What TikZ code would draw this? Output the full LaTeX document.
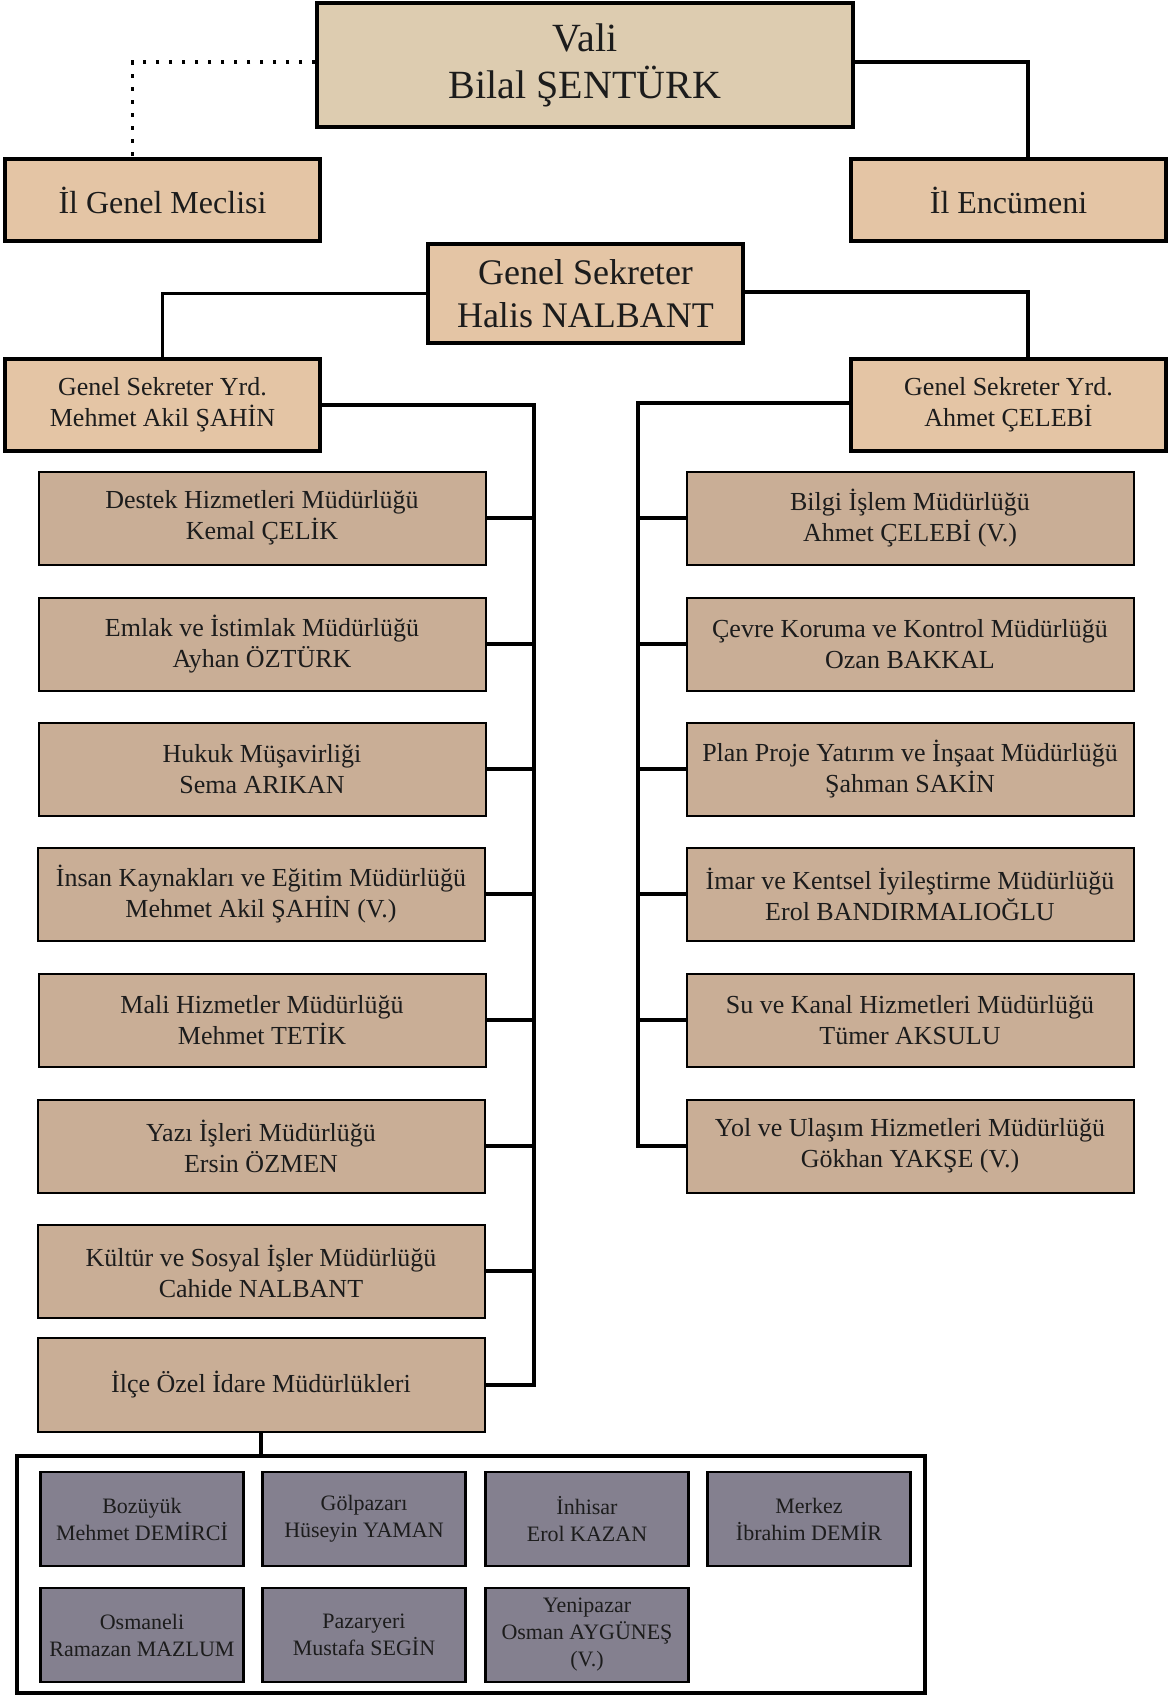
\documentclass[tikz,border=0pt]{standalone}
\usepackage{fontspec}
\setmainfont{Liberation Serif}
\usetikzlibrary{calc,positioning}
\definecolor{my_text}{RGB}{28, 28, 28}
\definecolor{my_beige}{RGB}{221, 204, 176}
\definecolor{my_peach}{RGB}{228, 197, 165}
\definecolor{my_tan}{RGB}{201, 174, 150}
\definecolor{my_grey}{RGB}{132, 128, 143}
\tikzset{
  orgbox/.style = {align=center, inner sep=0pt, rectangle, draw=black, text=my_text},
  box_top/.style = {orgbox, line width=3.5pt, fill=my_peach},
  box_dir/.style = {orgbox, line width=2pt, fill=my_tan, minimum width=447pt,
  minimum height=93pt, font=\fontsize{26}{31}\selectfont},
  box_ilce/.style = {orgbox, line width=2.5pt, fill=my_grey, minimum width=203pt,
  minimum height=94pt, font=\fontsize{22}{27}\selectfont}
}
\begin{document}
\begin{tikzpicture}[x=1pt,y=-1pt,
        conn/.style={line width=3.5pt},
        dot_line/.style={line width=3.5pt, dash pattern=on 3.5pt off 9.5pt},
        wide/.style={minimum width=315pt}]
    \useasboundingbox (0,0) rectangle (1168,1695);
    % top level
    \node [box_top, fill=my_beige, minimum width=536pt, minimum height=124pt,
      font=\fontsize{40}{47}\selectfont] (vali) at (585,65) {Vali\\Bilal ŞENTÜRK};
    \node [box_top, wide, minimum height=82pt, font=\fontsize{32}{38}\selectfont]
      (meclis) at (162.5,200) {İl Genel Meclisi};
    \node [box_top, wide, minimum height=82pt, font=\fontsize{32}{38}\selectfont]
      (encumen) at (1008.5,200) {İl Encümeni};
    \node [box_top, wide, minimum height=99pt, font=\fontsize{36}{43}\selectfont]
      (gensek) at (585.5,293.5) {Genel Sekreter\\Halis NALBANT};
    \node [box_top, wide, minimum height=92pt, font=\fontsize{26}{31}\selectfont]
      (gsy1) at (162.5,405) {Genel Sekreter Yrd.\\Mehmet Akil ŞAHİN};
    \node [box_top, wide, minimum height=92pt, font=\fontsize{26}{31}\selectfont]
      (gsy2) at (1008.5,405) {Genel Sekreter Yrd.\\Ahmet ÇELEBİ};
    % left column
    \node [box_dir] (l1) at (262,518) {Destek Hizmetleri Müdürlüğü\\Kemal ÇELİK};
    \node [box_dir] (l2) at (262,644) {Emlak ve İstimlak Müdürlüğü\\Ayhan ÖZTÜRK};
    \node [box_dir] (l3) at (262,769) {Hukuk Müşavirliği\\Sema ARIKAN};
    \node [box_dir] (l4) at (261,894) {İnsan Kaynakları ve Eğitim Müdürlüğü\\Mehmet Akil ŞAHİN (V.)};
    \node [box_dir] (l5) at (262,1020) {Mali Hizmetler Müdürlüğü\\Mehmet TETİK};
    \node [box_dir] (l6) at (261,1146) {Yazı İşleri Müdürlüğü\\Ersin ÖZMEN};
    \node [box_dir] (l7) at (261,1271) {Kültür ve Sosyal İşler Müdürlüğü\\Cahide NALBANT};
    \node [box_dir, minimum height=94pt] (ilce) at (261,1385) {İlçe Özel İdare Müdürlükleri};
    % right column
    \node [box_dir] (r1) at (910,518) {Bilgi İşlem Müdürlüğü\\Ahmet ÇELEBİ (V.)};
    \node [box_dir] (r2) at (910,644) {Çevre Koruma ve Kontrol Müdürlüğü\\Ozan BAKKAL};
    \node [box_dir] (r3) at (910,769) {Plan Proje Yatırım ve İnşaat Müdürlüğü\\Şahman SAKİN};
    \node [box_dir] (r4) at (910,894) {İmar ve Kentsel İyileştirme Müdürlüğü\\Erol BANDIRMALIOĞLU};
    \node [box_dir] (r5) at (910,1020) {Su ve Kanal Hizmetleri Müdürlüğü\\Tümer AKSULU};
    \node [box_dir] (r6) at (910,1146) {Yol ve Ulaşım Hizmetleri Müdürlüğü\\Gökhan YAKŞE (V.)};
    % districts
    \node [draw=black, line width=3.5pt, minimum width=908pt, minimum height=237pt,
      inner sep=0pt] (frame) at (471,1574.5) {};
    \node [box_ilce] (d1) at (142,1519) {Bozüyük\\Mehmet DEMİRCİ};
    \node [box_ilce] (d2) at (364,1519) {Gölpazarı\\Hüseyin YAMAN};
    \node [box_ilce] (d3) at (587,1519) {İnhisar\\Erol KAZAN};
    \node [box_ilce] (d4) at (809,1519) {Merkez\\İbrahim DEMİR};
    \node [box_ilce] (d5) at (142,1635) {Osmaneli\\Ramazan MAZLUM};
    \node [box_ilce] (d6) at (364,1635) {Pazaryeri\\Mustafa SEGİN};
    \node [box_ilce] (d7) at (587,1635) {Yenipazar\\Osman AYGÜNEŞ\\(V.)};
    % connectors
    \draw [dot_line] ($(vali.west)+(0,-3)$) -| ($(meclis.north)+(-30,0)$);
    \draw [conn] ($(vali.east)+(0,-3)$) -| ($(encumen.north)+(19.5,0)$);
    \draw [conn] (gensek.west) -| (gsy1.north);
    \draw [conn] ($(gensek.east)+(0,-1.5)$) -| ($(gsy2.north)+(19.5,0)$);
    \coordinate (l_trunk) at (534,405);
    \coordinate (r_trunk) at (638,403);
    \draw [conn] (gsy1.east) -- (l_trunk) -- (l_trunk |- ilce.east) -- (ilce.east);
    \draw [conn] (gsy2.west |- r_trunk) -- (r_trunk) -- (r_trunk |- r6.west) -- (r6.west);
    \foreach \n in {l1,l2,l3,l4,l5,l6,l7}
      \draw [conn] (\n.east) -- (l_trunk |- \n.east);
    \foreach \n in {r1,r2,r3,r4,r5}
      \draw [conn] (\n.west) -- (r_trunk |- \n.west);
    \draw [conn] (ilce.south) -- (ilce.south |- frame.north);
\end{tikzpicture}
\end{document}
